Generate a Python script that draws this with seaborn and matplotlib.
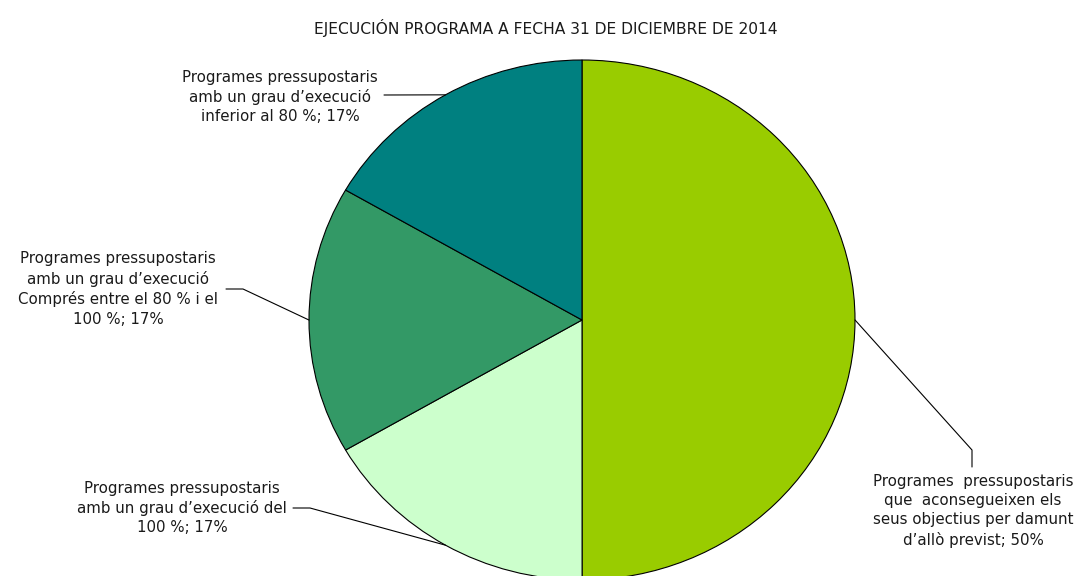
import matplotlib
matplotlib.use("Agg")
import matplotlib.pyplot as plt
import seaborn as sns
import numpy as np

# ---- data ----
categories = [
    "Programes  pressupostaris\nque  aconsegueixen els\nseus objectius per damunt\nd’allò previst",
    "Programes pressupostaris\namb un grau d’execució del\n100 %",
    "Programes pressupostaris\namb un grau d’execució\nComprés entre el 80 % i el\n100 %",
    "Programes pressupostaris\namb un grau d’execució\ninferior al 80 %",
]
shares = [50.0, 16.67, 16.67, 16.67]
pct_labels = ["50%", "17%", "17%", "17%"]
colors = ["#99CC00", "#CCFFCC", "#339966", "#008080"]
title = "EJECUCIÓN PROGRAMA A FECHA 31 DE DICIEMBRE DE 2014"

# ---- layout (pixels) ----
W, H = 1080, 576
CX, CY, RX, RY = 582, 320, 273, 260
text_pos = [(973, 511), (182, 508), (118, 289), (280, 97)]
leader_pts = [
    [(972, 467), (972, 450)],
    [(293, 508), (310, 508)],
    [(226, 289), (243, 289)],
    [(384, 95)],
]

sns.set_theme(style="white")
plt.rcParams["font.family"] = ["DejaVu Sans"]

fig = plt.figure(figsize=(W / 100, H / 100), dpi=100)
fig.patch.set_facecolor("white")
ax = fig.add_axes([(CX - RX) / W, (H - (CY + RY)) / H, 2 * RX / W, 2 * RY / H])

wedges, _ = ax.pie(
    shares, colors=colors, startangle=90, counterclock=False,
    wedgeprops=dict(edgecolor="black", linewidth=0.8),
)
ax.set_aspect("auto")
ax.set_xlim(-1, 1)
ax.set_ylim(-1, 1)
ax.axis("off")
for w in wedges:
    w.set_clip_on(False)


def px2d(p):
    return ((p[0] - CX) / RX, (CY - p[1]) / RY)


for w, cat, pct, tp, lp in zip(wedges, categories, pct_labels, text_pos, leader_pts):
    mid = np.deg2rad((w.theta1 + w.theta2) / 2)
    edge = (np.cos(mid), np.sin(mid))
    pts = [px2d(p) for p in lp] + [edge]
    xs, ys = zip(*pts)
    ax.plot(xs, ys, color="black", lw=0.8, clip_on=False)
    tx, ty = px2d(tp)
    ax.text(tx, ty, f"{cat}; {pct}", ha="center", va="center",
            multialignment="center", fontsize=10.8, color="#1a1a1a",
            linespacing=1.35, clip_on=False)

fig.text(546 / W, 1 - 28 / H, title, ha="center", va="center",
         fontsize=11.2, color="#1a1a1a")

fig.savefig("out.png", dpi=100, facecolor="white")
